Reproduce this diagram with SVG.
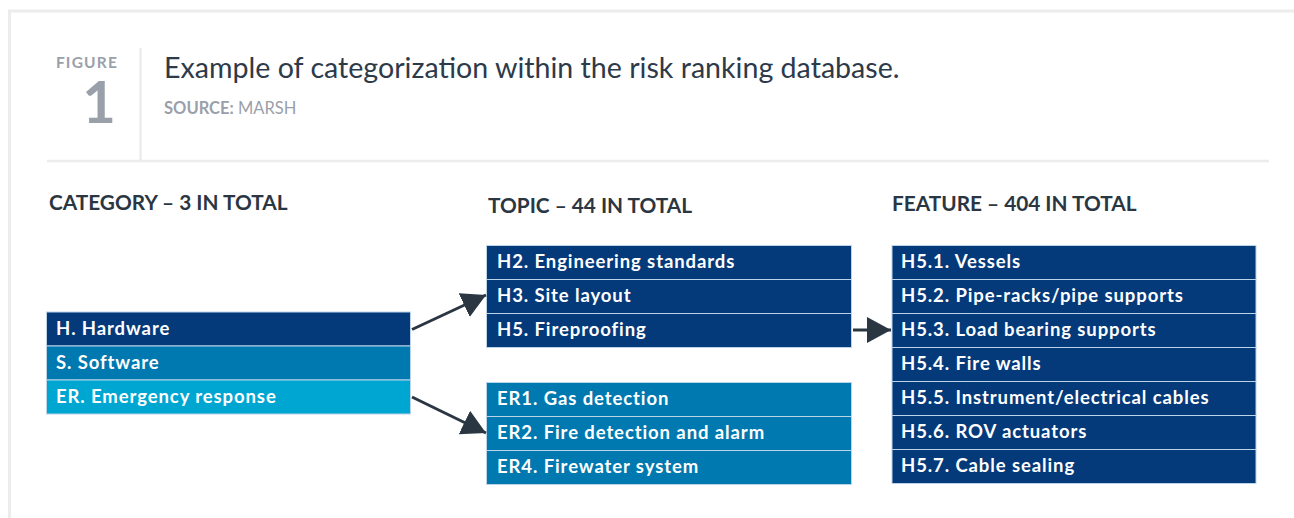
<svg xmlns="http://www.w3.org/2000/svg" width="1294" height="518" viewBox="0 0 1294 518">
<style>
text{font-family:Lato,"Noto Sans","Liberation Sans",sans-serif}
.card{fill:#fff;stroke:#ececec;stroke-width:3}
.rule{stroke:#ececec;stroke-width:2.5}
.fig{fill:#9aa0aa;font-weight:700}
.title{fill:#2d3a4a;font-size:28.6px}
.src{fill:#9aa0aa;font-size:16.5px}
.head{fill:#2b3643;font-size:20.8px;font-weight:700}
.box{stroke:#bcd4e8;stroke-width:1}
.navy{fill:#043a7a}
.mid{fill:#0079b1}
.light{fill:#00a6d2}
.lbl{fill:#fff;font-size:18.5px;font-weight:700;letter-spacing:0.9px}
.conn{stroke:#2b3643;stroke-width:3;fill:none}
</style>
<defs>
<marker id="ah" markerUnits="userSpaceOnUse" markerWidth="26" markerHeight="28" refX="24" refY="13" orient="auto">
<path d="M0,0 L24,13 L0,26 z" fill="#2b3643"/>
</marker>
</defs>
<rect class="card" x="9.5" y="11" width="1300" height="520"/>
<g id="header">
<text class="fig" x="87" y="68" font-size="15.5" text-anchor="middle" letter-spacing="1.2">FIGURE</text>
<text class="fig" x="99" y="123" font-size="58" text-anchor="middle" font-weight="600">1</text>
<line class="rule" x1="140.5" y1="48" x2="140.5" y2="161"/>
<line class="rule" x1="47" y1="161" x2="1269" y2="161"/>
<text class="title" x="164" y="78">Example of categorization within the risk ranking database.</text>
<text class="src" x="164" y="114"><tspan font-weight="700">SOURCE:</tspan> MARSH</text>
</g>
<g id="headings">
<text class="head" x="49" y="210">CATEGORY – 3 IN TOTAL</text>
<text class="head" x="488" y="213">TOPIC – 44 IN TOTAL</text>
<text class="head" x="892" y="211">FEATURE – 404 IN TOTAL</text>
</g>
<g id="category">
<g id="cat-h"><rect class="box navy" x="46.5" y="312" width="364" height="34"/><text class="lbl" x="56" y="335">H. Hardware</text></g>
<g id="cat-s"><rect class="box mid" x="46.5" y="346" width="364" height="34"/><text class="lbl" x="56" y="369">S. Software</text></g>
<g id="cat-er"><rect class="box light" x="46.5" y="380" width="364" height="34"/><text class="lbl" x="56" y="403">ER. Emergency response</text></g>
</g>
<g id="topic">
<g id="t-h2"><rect class="box navy" x="486.5" y="245.5" width="365" height="34"/><text class="lbl" x="497" y="268">H2. Engineering standards</text></g>
<g id="t-h3"><rect class="box navy" x="486.5" y="279.5" width="365" height="34"/><text class="lbl" x="497" y="302">H3. Site layout</text></g>
<g id="t-h5"><rect class="box navy" x="486.5" y="313.5" width="365" height="34"/><text class="lbl" x="497" y="336">H5. Fireproofing</text></g>
<g id="t-er1"><rect class="box mid" x="486.5" y="382.5" width="365" height="34"/><text class="lbl" x="497" y="405">ER1. Gas detection</text></g>
<g id="t-er2"><rect class="box mid" x="486.5" y="416.5" width="365" height="34"/><text class="lbl" x="497" y="439">ER2. Fire detection and alarm</text></g>
<g id="t-er4"><rect class="box mid" x="486.5" y="450.5" width="365" height="34"/><text class="lbl" x="497" y="473">ER4. Firewater system</text></g>
</g>
<g id="feature">
<g id="f-1"><rect class="box navy" x="892" y="245.5" width="364" height="34"/><text class="lbl" x="901" y="268">H5.1. Vessels</text></g>
<g id="f-2"><rect class="box navy" x="892" y="279.5" width="364" height="34"/><text class="lbl" x="901" y="302">H5.2. Pipe-racks/pipe supports</text></g>
<g id="f-3"><rect class="box navy" x="892" y="313.5" width="364" height="34"/><text class="lbl" x="901" y="336">H5.3. Load bearing supports</text></g>
<g id="f-4"><rect class="box navy" x="892" y="347.5" width="364" height="34"/><text class="lbl" x="901" y="370">H5.4. Fire walls</text></g>
<g id="f-5"><rect class="box navy" x="892" y="381.5" width="364" height="34"/><text class="lbl" x="901" y="404">H5.5. Instrument/electrical cables</text></g>
<g id="f-6"><rect class="box navy" x="892" y="415.5" width="364" height="34"/><text class="lbl" x="901" y="438">H5.6. ROV actuators</text></g>
<g id="f-7"><rect class="box navy" x="892" y="449.5" width="364" height="34"/><text class="lbl" x="901" y="472">H5.7. Cable sealing</text></g>
</g>
<g id="connectors">
<line class="conn" x1="412" y1="329.5" x2="486" y2="295" marker-end="url(#ah)"/>
<line class="conn" x1="412" y1="397" x2="486" y2="433" marker-end="url(#ah)"/>
<line class="conn" x1="853" y1="330" x2="891" y2="330" marker-end="url(#ah)"/>
</g>
</svg>
